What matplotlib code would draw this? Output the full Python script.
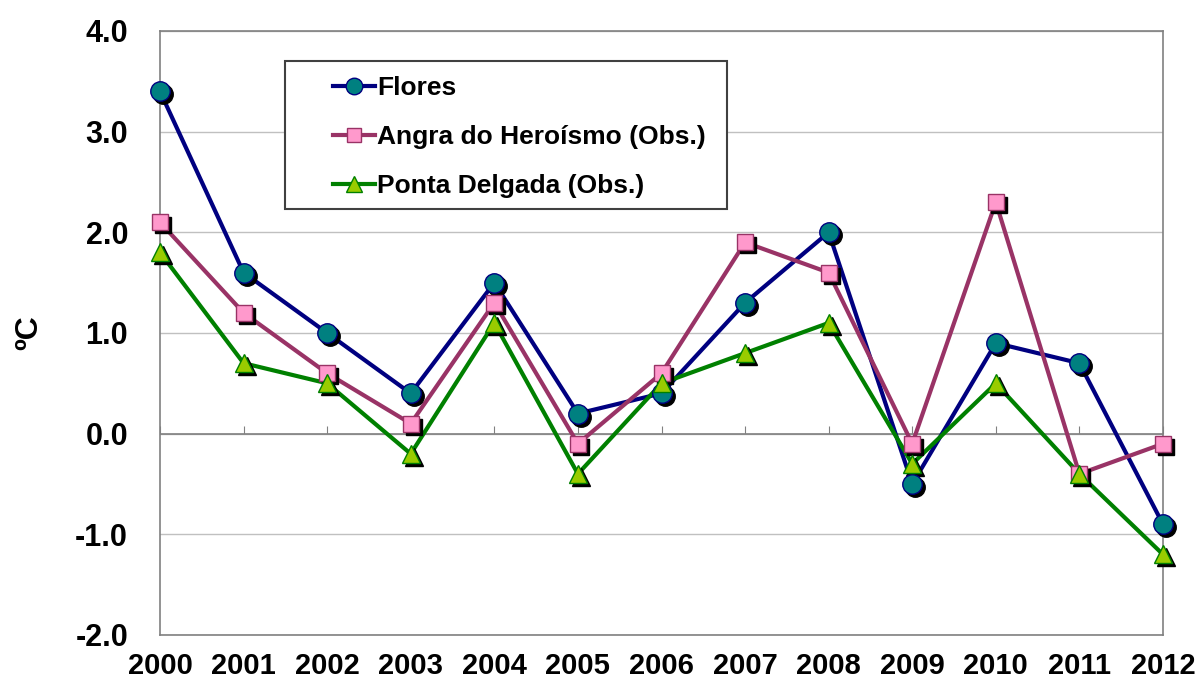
import matplotlib.pyplot as plt
import matplotlib.transforms as mtransforms
from matplotlib.patches import Rectangle

plt.rcParams['font.family'] = ['Liberation Sans', 'DejaVu Sans']
plt.rcParams['font.weight'] = 'bold'

years = [2000, 2001, 2002, 2003, 2004, 2005, 2006, 2007, 2008, 2009, 2010, 2011, 2012]
flores = [3.4, 1.6, 1.0, 0.4, 1.5, 0.2, 0.4, 1.3, 2.0, -0.5, 0.9, 0.7, -0.9]
angra = [2.1, 1.2, 0.6, 0.1, 1.3, -0.1, 0.6, 1.9, 1.6, -0.1, 2.3, -0.4, -0.1]
ponta = [1.8, 0.7, 0.5, -0.2, 1.1, -0.4, 0.5, 0.8, 1.1, -0.3, 0.5, -0.4, -1.2]

series = [
    ("Flores", flores, '#000080', '#008080', '#000080', 'o', 14),
    ("Angra do Heroísmo (Obs.)", angra, '#993366', '#FF99CC', '#993366', 's', 12),
    ("Ponta Delgada (Obs.)", ponta, '#008000', '#99CC00', '#008000', '^', 13),
]

fig = plt.figure(figsize=(11.95, 6.79), dpi=100)
ax = fig.add_axes([160 / 1195, 44 / 679, 1003 / 1195, 604 / 679])

shadow = mtransforms.offset_copy(ax.transData, fig=fig, x=3, y=-3, units='dots')

for name, vals, lc, fc, ec, mk, ms in series:
    ax.plot(years, vals, color=lc, lw=3, zorder=3)
    ax.plot(years, vals, ls='none', marker=mk, ms=ms, color='black', transform=shadow, zorder=4, clip_on=False)
    ax.plot(years, vals, ls='none', marker=mk, ms=ms, mfc=fc, mec=ec, mew=1, zorder=5, clip_on=False)
    ax.plot([], [], color=lc, lw=3, marker=mk, ms=ms * 0.85, mfc=fc, mec=ec, mew=1, label=name)

ax.set_xlim(2000, 2012)
ax.set_ylim(-2, 4)
ax.set_xticks(years)
ax.set_xticklabels([str(y) for y in years], fontsize=21, fontweight='bold')
ax.set_yticks([-2, -1, 0, 1, 2, 3, 4])
ax.set_yticklabels(['%.1f' % v for v in [-2, -1, 0, 1, 2, 3, 4]], fontsize=22, fontweight='bold')
ax.tick_params(axis='x', length=0, pad=12)
ax.tick_params(axis='y', length=0, pad=23)
ax.grid(axis='y', color='#c0c0c0', lw=1)
ax.set_axisbelow(True)
for s in ax.spines.values():
    s.set_color('#808080')
    s.set_linewidth(1.2)

ax.axhline(0, color='#808080', lw=1.2, zorder=2)
zero_axis = ax.secondary_xaxis(1 / 3)
zero_axis.set_xticks(years)
zero_axis.tick_params(direction='in', length=6, color='#808080', labelbottom=False, labeltop=False)
zero_axis.spines['bottom'].set_visible(False)
zero_axis.spines['top'].set_visible(False)

ax.set_ylabel('ºC', fontsize=23, fontweight='bold', labelpad=22)

leg = ax.legend(loc='upper left', bbox_to_anchor=(0.172, 0.925), frameon=False,
                prop={'size': 19, 'weight': 'bold'}, handlelength=1.6, handletextpad=0.1,
                labelspacing=0.95, borderaxespad=0, borderpad=0)
ax.add_patch(Rectangle((0.125, 0.705), 0.44, 0.245, transform=ax.transAxes, fill=True,
                       facecolor='white', edgecolor='#404040', lw=1.5, zorder=1))

fig.savefig('out.png', dpi=100)
